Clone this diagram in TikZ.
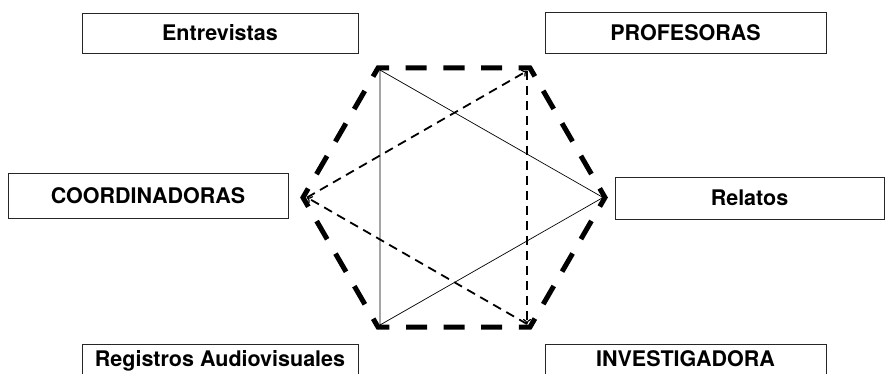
\documentclass[tikz,border=0pt]{standalone}
\usepackage{fontspec}
\setmainfont{TeX Gyre Heros}
\usetikzlibrary{arrows.meta}
\begin{document}
\begin{tikzpicture}[x=1pt,y=-1pt,
  label box/.style={draw=black!85, line width=0.9pt, minimum width=276pt,
    minimum height=40pt, inner sep=0pt, font=\fontsize{21.5}{24}\selectfont\bfseries},
  cut box/.style={label box, anchor=north, minimum height=10pt,
    text height=22pt, text depth=22pt},
  hexagon frame/.style={line width=5pt, line join=miter, miter limit=10,
    dash pattern=on 21pt off 16.6pt, dash phase=10.5pt},
  solid link/.style={line width=0.7pt},
  dashed link/.style={line width=1.8pt, dash pattern=on 9pt off 6pt,
    -{To[length=5pt,width=8pt,line width=1.2pt]}}
]
\useasboundingbox (0,0) rectangle (886,374);

% labelled boxes around the hexagon
\node[label box, minimum width=276pt, minimum height=40pt] (entrevistas) at (220,33) {Entrevistas};
\node[label box, minimum width=281pt, minimum height=41pt] (profesoras) at (685.5,32.5) {PROFESORAS};
\node[label box, minimum width=280pt, minimum height=45pt] (coordinadoras) at (148,195.5) {COORDINADORAS};
\node[label box, minimum width=269pt, minimum height=42pt] (relatos) at (749.5,198) {Relatos};
% the lower boxes run past the bottom edge
\node[cut box, minimum width=276pt] (registros) at (220,344) {Registros Audiovisuales};
\node[cut box, minimum width=281pt] (investigadora) at (685.5,344) {INVESTIGADORA};

% hexagon corners
\coordinate (tm) at (454,68);
\coordinate (tl) at (378,68);
\coordinate (tr) at (530,68);
\coordinate (r)  at (605,197.5);
\coordinate (br) at (530,327);
\coordinate (bl) at (378,327);
\coordinate (l)  at (303,197.5);

% thick dashed hexagon
\draw[hexagon frame] (tm) -- (tr) -- (r) -- (br) -- (bl) -- (l) -- (tl) -- (tm);

% solid triangle
\coordinate (stl) at (380,70);
\coordinate (sbl) at (380,325);
\coordinate (sr)  at (603,197.5);
\draw[solid link] (stl) -- (sr) -- (sbl) -- cycle;

% dashed triangle with arrows
\coordinate (dl)  at (307,197.5);
\coordinate (dtr) at (527,71);
\coordinate (dbr) at (527,324);
\draw[dashed link] (dl) -- (dtr);
\draw[dashed link] (dtr) -- (dbr);
\draw[dashed link] (dbr) -- (dl);
\end{tikzpicture}
\end{document}
